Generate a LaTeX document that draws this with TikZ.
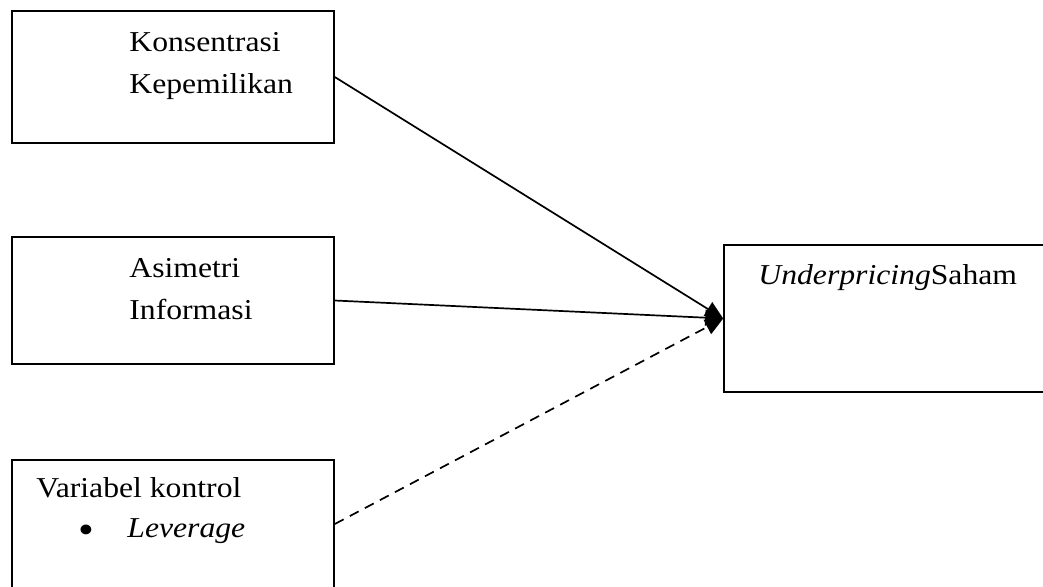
\documentclass[tikz,border=0pt]{standalone}
\usepackage{fontspec}
\setmainfont[FakeStretch=1.1]{Liberation Serif}
\usetikzlibrary{arrows.meta}

\begin{document}
\begin{tikzpicture}[x=0.5pt,y=-0.5pt,>={Triangle[length=9pt,width=8pt]},
  box/.style={draw,line width=0.8pt,inner sep=0pt,minimum width=161pt},
  lbl/.style={anchor=base west,inner sep=0pt,font=\fontsize{14.4}{21}\selectfont},
  link/.style={->,line width=0.85pt}]
\useasboundingbox (0,0) rectangle (1043,586);
% boxes
\node[box,minimum height=66pt] (kons) at (173,77) {};
\node[box,minimum height=63.5pt] (asim) at (173,300.5) {};
\node[box,minimum height=64pt] (var) at (173,524) {};
\node[box,minimum width=180pt,minimum height=73.5pt] (under) at (904,318.5) {};
% texts
\node[lbl] (konsA) at (129,51) {Konsentrasi};
\node[lbl] (konsB) at (129,93) {Kepemilikan};
\node[lbl] (asimA) at (129,277) {Asimetri};
\node[lbl] (asimB) at (129,319) {Informasi};
\node[lbl] (varA) at (36,497) {Variabel kontrol};
\node[lbl,font=\fontsize{20.5}{21}\selectfont] (bul) at (78,543) {\textbullet};
\node[lbl] (lev) at (127,537) {\textit{Leverage}};
\node[lbl] (undA) at (758,284) {\textit{Underpricing}Saham};
% arrows
\draw[link] (kons.east) -- (under.west);
\draw[link] (asim.east) -- (under.west);
\draw[link,dash pattern=on 5pt off 3.5pt] (var.east) -- (under.west);
\end{tikzpicture}
\end{document}
